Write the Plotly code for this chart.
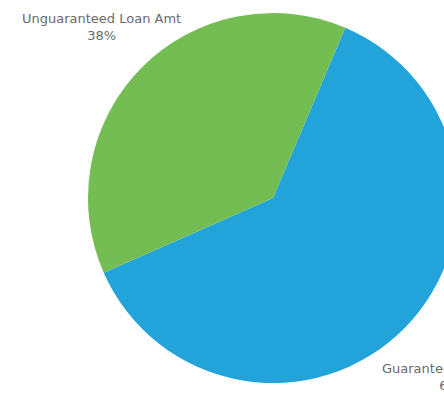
import plotly.graph_objects as go

labels = ["Guaranteed Loan Amt", "Unguaranteed Loan Amt"]
values = [62, 38]
colors = ["#22A4DA", "#74BD52"]

total = sum(values)
pcts = [round(v * 100 / total) for v in values]

W, H = 546, 395
ML, MR, MT, MB = 88, 88, 13, 12
PW, PH = W - ML - MR, H - MT - MB

fig = go.Figure(
    go.Pie(
        labels=labels,
        values=values,
        sort=False,
        direction="clockwise",
        rotation=23,
        marker=dict(colors=colors, line=dict(width=0)),
        textinfo="none",
        hoverinfo="label+percent",
        showlegend=False,
        domain=dict(x=[0, 1], y=[0, 1]),
    )
)

font = dict(family="DejaVu Sans, sans-serif", size=13, color="#6a6a6a")

# slice labels placed outside the pie (pixel centres converted to paper units)
label_pos = [(453, 377), (101, 27)]
for (px, py), name, p in zip(label_pos, labels, pcts):
    fig.add_annotation(
        x=(px - ML) / PW, y=1 - (py - MT) / PH, xref="paper", yref="paper",
        text=f"{name}<br>{p}%", showarrow=False, align="center",
        xanchor="center", yanchor="middle", font=font,
    )

fig.update_layout(
    width=W, height=H,
    margin=dict(l=ML, r=MR, t=MT, b=MB),
    paper_bgcolor="white", plot_bgcolor="white",
)

fig.write_html(
    "out.html",
    post_script="document.body.style.margin='0';document.body.style.overflow='hidden';",
)
